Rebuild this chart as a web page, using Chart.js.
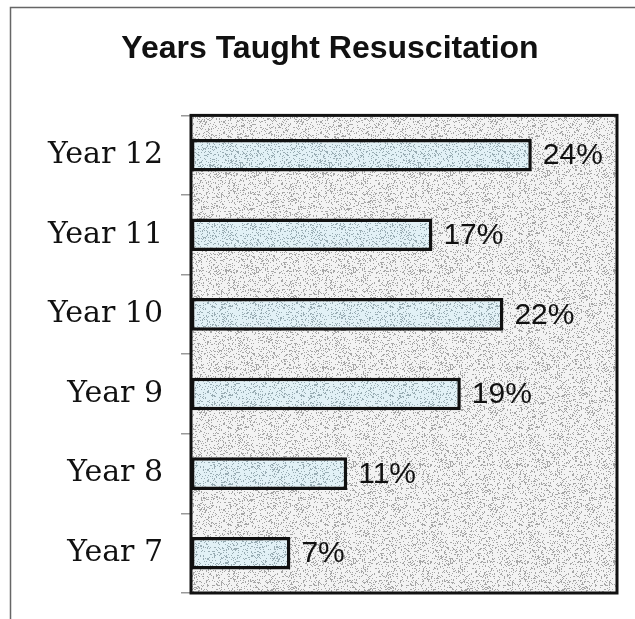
<!DOCTYPE html>
<html>
<head>
<meta charset="utf-8">
<script src="https://cdn.jsdelivr.net/npm/chart.js@4.4.1/dist/chart.umd.min.js"></script>
<style>
    html, body { margin: 0; padding: 0; background: #fff; }
    #chart-div { width: 635px; height: 619px; }
</style>
</head>
<body>
<div id="chart-div">
    <canvas id="years-chart" width="635" height="619"></canvas>
</div>
<script>
let yearLabels = ['Year 12', 'Year 11', 'Year 10', 'Year 9', 'Year 8', 'Year 7'];
let percentValues = [24, 17, 22, 19, 11, 7];
let chartTitle = 'Years Taught Resuscitation';

// grainy fill, like a photocopied page
function makeStipple(base, dot, size) {
    let c = document.createElement('canvas');
    c.width = size;
    c.height = size;
    let ctx = c.getContext('2d');
    ctx.fillStyle = base;
    ctx.fillRect(0, 0, size, size);
    ctx.fillStyle = dot;
    for (let i = 0; i < size; i++) {
        for (let j = 0; j < size; j++) {
            let h = Math.sin(i * 12.9898 + j * 78.233) * 43758.5453;
            h = h - Math.floor(h);
            if (h < 0.2) {
                ctx.fillRect(i, j, 1, 1);
            }
        }
    }
    return ctx.createPattern(c, 'repeat');
}

let canvas = document.getElementById('years-chart');
let context = canvas.getContext('2d');
let plotFill = makeStipple('#f3f3f3', '#a6a6a6', 97);
let barFill = makeStipple('#e2f1f6', '#98acb3', 89);

let framePlugin = {
    id: 'frame',
    beforeDraw: function (chart) {
        let ctx = chart.ctx;
        let a = chart.chartArea;
        ctx.save();
        // thin page frame, top and left only
        ctx.strokeStyle = '#666';
        ctx.lineWidth = 1.5;
        ctx.beginPath();
        ctx.moveTo(635, 7.5);
        ctx.lineTo(10.5, 7.5);
        ctx.lineTo(10.5, 619);
        ctx.stroke();
        ctx.fillStyle = plotFill;
        ctx.fillRect(a.left, a.top, a.right - a.left, a.bottom - a.top);
        ctx.restore();
    },
    afterDraw: function (chart) {
        let ctx = chart.ctx;
        let a = chart.chartArea;
        ctx.save();
        ctx.strokeStyle = '#111';
        ctx.lineWidth = 3;
        ctx.strokeRect(a.left, a.top, a.right - a.left, a.bottom - a.top);
        ctx.restore();
    }
};

let valueLabelPlugin = {
    id: 'valueLabels',
    afterDatasetsDraw: function (chart) {
        let ctx = chart.ctx;
        let meta = chart.getDatasetMeta(0);
        ctx.save();
        ctx.font = '30px "Liberation Sans", Arial, sans-serif';
        ctx.fillStyle = '#111';
        ctx.textAlign = 'left';
        ctx.textBaseline = 'middle';
        for (let i = 0; i < meta.data.length; i++) {
            let bar = meta.data[i];
            ctx.fillText(percentValues[i] + '%', bar.x + 11, bar.y + 1);
        }
        ctx.restore();
    }
};

let dataforChart = {
    labels: yearLabels,
    datasets: [
        {
            label: chartTitle,
            data: percentValues,
            backgroundColor: barFill,
            borderColor: '#111',
            borderWidth: 3.5,
            borderSkipped: false,
            categoryPercentage: 1,
            barPercentage: 0.41
        }
    ]
};

let config = {
    type: 'bar',
    data: dataforChart,
    options: {
        indexAxis: 'y',
        responsive: false,
        animation: false,
        layout: {
            padding: { left: 43, right: 18, top: 10, bottom: 26 }
        },
        scales: {
            x: {
                display: false,
                min: 0,
                max: 30
            },
            y: {
                afterFit: function (scale) {
                    scale.width = 148;
                    // labels sit between the boundary ticks, no overhang needed
                    scale.paddingTop = 0;
                    scale.paddingBottom = 0;
                },
                border: { display: false },
                grid: {
                    drawOnChartArea: false,
                    drawTicks: true,
                    tickLength: 10,
                    tickColor: '#999',
                    lineWidth: 1.5
                },
                ticks: {
                    padding: 18,
                    color: '#111',
                    font: { family: '"DejaVu Serif", serif', size: 30 }
                }
            }
        },
        plugins: {
            legend: { display: false },
            tooltip: { enabled: false },
            title: {
                display: true,
                text: chartTitle,
                color: '#111',
                font: { family: '"Liberation Sans", Arial, sans-serif', size: 32, weight: 'bold' },
                padding: { top: 20, bottom: 47 }
            }
        }
    },
    plugins: [framePlugin, valueLabelPlugin]
};

let chart = new Chart(context, config);
</script>
</body>
</html>
